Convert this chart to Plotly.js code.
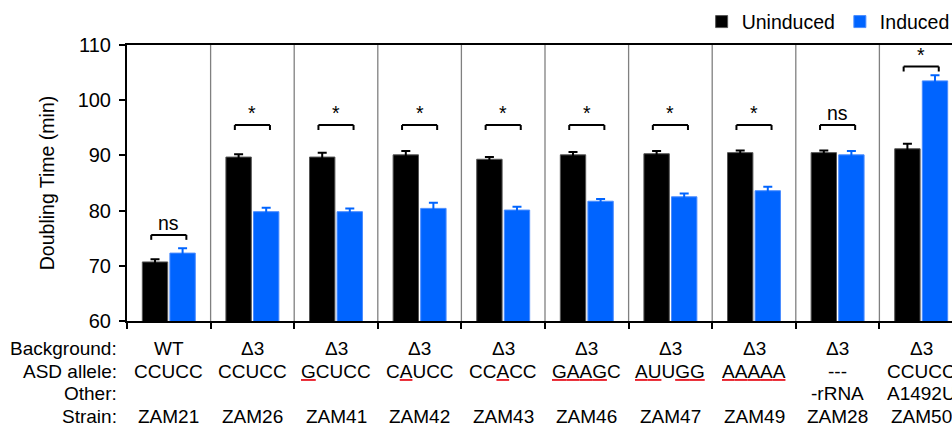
<!DOCTYPE html>
<html>
<head>
<meta charset="utf-8">
<script src="https://cdn.plot.ly/plotly-3.0.1.min.js"></script>
<style>
html,body{margin:0;padding:0;overflow:hidden;background:#fff;}
#chart{width:975px;height:428px;}
</style>
</head>
<body>
<div id="chart"></div>
<script>
// ---- data ----
var strains    = ['ZAM21','ZAM26','ZAM41','ZAM42','ZAM43','ZAM46','ZAM47','ZAM49','ZAM28','ZAM50'];
var background = ['WT','Δ3','Δ3','Δ3','Δ3','Δ3','Δ3','Δ3','Δ3','Δ3'];
var asdAllele  = ['CCUCC','CCUCC','GCUCC','CAUCC','CCACC','GAAGC','AUUGG','AAAAA','---','CCUCC'];
var asdMutated = [[],[],[0],[1],[2],[0,1,2,3],[0,1,3,4],[0,1,2,3,4],[],[]];
var other      = ['','','','','','','','','-rRNA','A1492U'];
var rowLabels  = ['Background:','ASD allele:','Other:','Strain:'];

var uninduced    = [70.7, 89.7, 89.7, 90.1, 89.3, 90.1, 90.3, 90.5, 90.5, 91.2];
var uninducedErr = [0.5, 0.5, 0.8, 0.7, 0.4, 0.5, 0.5, 0.4, 0.4, 0.9];
var induced      = [72.3, 79.8, 79.8, 80.4, 80.1, 81.7, 82.5, 83.6, 90.1, 103.5];
var inducedErr   = [0.9, 0.7, 0.6, 1.0, 0.6, 0.4, 0.6, 0.7, 0.7, 1.0];

var sigLabel = ['ns','*','*','*','*','*','*','*','ns','*'];
var sigY     = [75.6, 95.5, 95.5, 95.5, 95.5, 95.5, 95.5, 95.5, 95.5, 106.1];

// ---- styling ----
var FONT = 'Liberation Sans, Arial, Helvetica, sans-serif';
var BLUE = '#0064FF';
var RED = '#e8202a';

var traces = [
  {
    type:'bar', name:'Uninduced', x:strains, y:uninduced,
    marker:{color:'#000000', line:{color:'#555555', width:1}},
    error_y:{type:'data', array:uninducedErr, visible:true, color:'#000000', thickness:2, width:4.5}
  },
  {
    type:'bar', name:'Induced', x:strains, y:induced,
    marker:{color:BLUE, line:{color:'#4a8cff', width:1}},
    error_y:{type:'data', array:inducedErr, visible:true, color:BLUE, thickness:2, width:4.5}
  }
];

var shapes = [];
var annotations = [];

// category separators
for (var i = 0; i < strains.length - 1; i++) {
  shapes.push({type:'line', xref:'x', yref:'paper', x0:i+0.5, x1:i+0.5, y0:0, y1:1,
               line:{color:'#808080', width:1.3}, layer:'below'});
}

// significance brackets
var half = 0.21, tick = 0.9;
for (var i = 0; i < strains.length; i++) {
  var s = sigY[i];
  shapes.push({type:'line', xref:'x', yref:'y', x0:i-half, x1:i+half, y0:s, y1:s, line:{color:'#000', width:2}});
  shapes.push({type:'line', xref:'x', yref:'y', x0:i-half, x1:i-half, y0:s, y1:s-tick, line:{color:'#000', width:2}});
  shapes.push({type:'line', xref:'x', yref:'y', x0:i+half, x1:i+half, y0:s, y1:s-tick, line:{color:'#000', width:2}});
  annotations.push({xref:'x', yref:'y', x:i, y:s, text:sigLabel[i], showarrow:false,
                    yanchor:'bottom', xanchor:'center', yshift:-1,
                    font:{family:FONT, size:19.5, color:'#000'}});
}

// table below the axis
var rowShift = [-27, -50, -72, -95];
for (var r = 0; r < rowLabels.length; r++) {
  annotations.push({xref:'paper', yref:'paper', x:0, y:0, xanchor:'right', yanchor:'middle',
                    xshift:-8, yshift:rowShift[r], text:rowLabels[r], showarrow:false,
                    font:{family:FONT, size:19, color:'#000'}});
}
// mutated letters: red underline, black glyph
function markup(txt, idx) {
  var out = '';
  for (var k = 0; k < txt.length; k++) {
    if (idx.indexOf(k) >= 0) out += '<span style="color:' + RED + ';text-decoration:underline"><span style="color:#000">' + txt[k] + '</span></span>';
    else out += txt[k];
  }
  return out;
}
for (var i = 0; i < strains.length; i++) {
  var asdText = asdMutated[i].length ? markup(asdAllele[i], asdMutated[i]) : asdAllele[i];
  var rows = [background[i], asdText, other[i], strains[i]];
  for (var r = 0; r < rows.length; r++) {
    if (!rows[r]) continue;
    annotations.push({xref:'x', yref:'paper', x:i, y:0, xanchor:'center', yanchor:'middle',
                      yshift:rowShift[r], text:rows[r], showarrow:false,
                      font:{family:FONT, size:19, color:'#000'}});
  }
}

var layout = {
  width:975, height:428,
  margin:{l:127, r:12, t:45, b:107, autoexpand:false},
  paper_bgcolor:'#fff', plot_bgcolor:'#fff',
  font:{family:FONT, size:19, color:'#000'},
  barmode:'group', bargap:0.34, bargroupgap:0.08,
  showlegend:true,
  legend:{orientation:'h', x:0.99, xanchor:'right', y:1.013, yanchor:'bottom',
          font:{family:FONT, size:19.5, color:'#000'}, bgcolor:'rgba(0,0,0,0)'},
  xaxis:{
    type:'category', range:[-0.5, 9.5],
    showline:true, linecolor:'#000', linewidth:2, mirror:true,
    ticks:'outside', tickson:'boundaries', ticklen:6, tickwidth:2, tickcolor:'#000',
    showticklabels:false, showgrid:false, zeroline:false, fixedrange:true
  },
  yaxis:{
    range:[60, 110], tickvals:[60,70,80,90,100,110],
    showline:true, linecolor:'#000', linewidth:2, mirror:true,
    ticks:'outside', ticklen:6, tickwidth:2, tickcolor:'#000', ticklabelstandoff:4,
    tickfont:{family:FONT, size:20, color:'#000'},
    showgrid:false, zeroline:false, fixedrange:true,
    title:{text:'Doubling Time (min)', standoff:18, font:{family:FONT, size:19.5, color:'#000'}}
  },
  shapes:shapes,
  annotations:annotations
};

Plotly.newPlot('chart', traces, layout, {displayModeBar:false, staticPlot:true});
</script>
</body>
</html>
